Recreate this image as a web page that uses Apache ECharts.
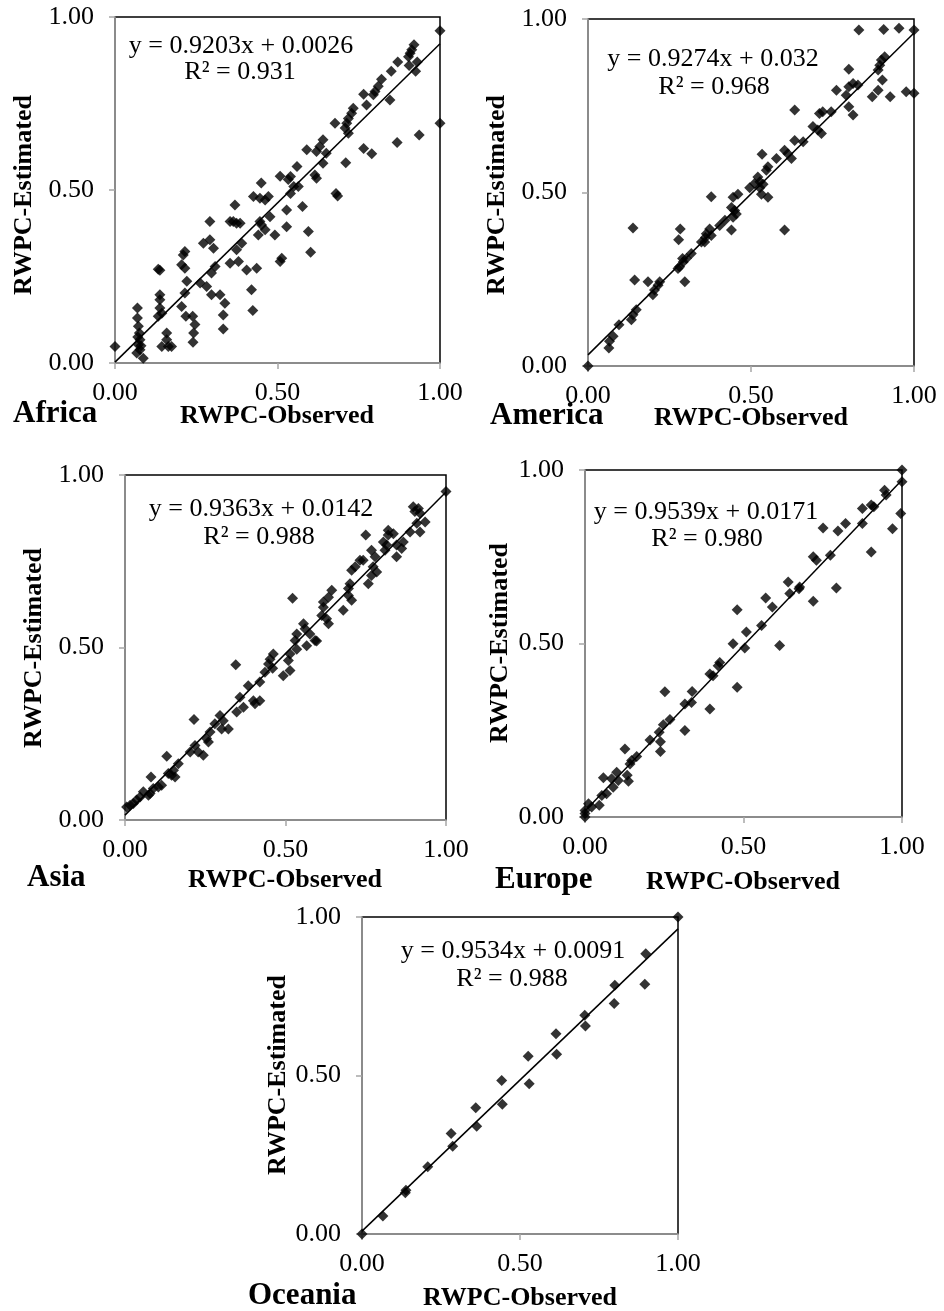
<!DOCTYPE html>
<html>
<head>
<meta charset="utf-8">
<script src="https://cdn.jsdelivr.net/npm/echarts/dist/echarts.min.js"></script>
<style>
  html, body { margin: 0; padding: 0; background: #fff; }
  #chart { width: 944px; height: 1311px; }
</style>
</head>
<body>
<div id="chart"></div>
<script>
// Observed vs. estimated RWPC for five regions, each with its linear fit.

const regionNames = ['Africa', 'America', 'Asia', 'Europe', 'Oceania'];
const tickValues = [0, 0.5, 1];

const africaObserved = [1.00, 1.00, 0.920, 0.913, 0.908, 0.903, 0.930, 0.925, 0.905, 0.870, 0.850, 0.820, 0.810, 0.800, 0.795, 0.846, 0.765, 0.774, 0.733, 0.728, 0.718, 0.713, 0.677, 0.708, 0.718, 0.765, 0.790, 0.868, 0.936, 0.710, 0.640, 0.630, 0.620, 0.590, 0.650, 0.640, 0.615, 0.620, 0.560, 0.540, 0.533, 0.508, 0.550, 0.540, 0.450, 0.680, 0.426, 0.446, 0.462, 0.472, 0.564, 0.528, 0.528, 0.577, 0.477, 0.492, 0.462, 0.451, 0.446, 0.441, 0.595, 0.602, 0.508, 0.513, 0.685, 0.369, 0.364, 0.374, 0.385, 0.354, 0.390, 0.374, 0.380, 0.354, 0.405, 0.436, 0.420, 0.424, 0.292, 0.272, 0.292, 0.303, 0.308, 0.297, 0.215, 0.210, 0.205, 0.215, 0.221, 0.215, 0.262, 0.282, 0.297, 0.323, 0.338, 0.333, 0.333, 0.205, 0.218, 0.239, 0.246, 0.242, 0.240, 0.133, 0.138, 0.138, 0.138, 0.138, 0.144, 0.133, 0.159, 0.159, 0.144, 0.164, 0.174, 0.069, 0.069, 0.072, 0.075, 0.077, 0.072, 0.077, 0.067, 0.087, 0.000, 0.080, 0.070];
const africaEstimated = [0.960, 0.693, 0.920, 0.905, 0.895, 0.885, 0.870, 0.843, 0.860, 0.870, 0.843, 0.820, 0.800, 0.785, 0.775, 0.760, 0.777, 0.746, 0.736, 0.722, 0.707, 0.693, 0.693, 0.679, 0.664, 0.620, 0.605, 0.637, 0.659, 0.579, 0.645, 0.626, 0.611, 0.616, 0.606, 0.577, 0.543, 0.534, 0.568, 0.539, 0.530, 0.540, 0.510, 0.490, 0.520, 0.490, 0.481, 0.476, 0.471, 0.481, 0.510, 0.442, 0.394, 0.452, 0.423, 0.370, 0.385, 0.399, 0.409, 0.370, 0.380, 0.320, 0.293, 0.303, 0.483, 0.457, 0.409, 0.404, 0.404, 0.409, 0.346, 0.327, 0.293, 0.288, 0.269, 0.274, 0.212, 0.152, 0.409, 0.346, 0.356, 0.332, 0.279, 0.260, 0.322, 0.312, 0.284, 0.274, 0.236, 0.202, 0.231, 0.221, 0.197, 0.197, 0.173, 0.139, 0.098, 0.163, 0.135, 0.135, 0.111, 0.087, 0.060, 0.271, 0.268, 0.197, 0.183, 0.159, 0.144, 0.135, 0.087, 0.067, 0.048, 0.048, 0.048, 0.159, 0.130, 0.106, 0.087, 0.067, 0.053, 0.038, 0.029, 0.014, 0.048, 0.050, 0.075];

const americaObserved = [1.000, 0.831, 0.907, 0.954, 1.000, 0.976, 0.927, 0.872, 0.890, 0.903, 0.890, 0.895, 0.900, 0.910, 0.800, 0.800, 0.813, 0.828, 0.762, 0.792, 0.800, 0.813, 0.634, 0.710, 0.720, 0.746, 0.690, 0.705, 0.716, 0.660, 0.634, 0.603, 0.613, 0.624, 0.578, 0.552, 0.547, 0.534, 0.521, 0.527, 0.511, 0.378, 0.527, 0.496, 0.460, 0.445, 0.537, 0.532, 0.552, 0.603, 0.440, 0.450, 0.455, 0.445, 0.440, 0.404, 0.373, 0.363, 0.378, 0.358, 0.348, 0.317, 0.302, 0.292, 0.281, 0.276, 0.283, 0.278, 0.297, 0.138, 0.143, 0.184, 0.220, 0.215, 0.204, 0.199, 0.148, 0.138, 0.133, 0.095, 0.077, 0.066, 0.064, 0.000, 0.290, 0.360, 0.420];
const americaEstimated = [0.968, 0.968, 0.970, 0.973, 0.786, 0.790, 0.776, 0.776, 0.795, 0.824, 0.853, 0.867, 0.882, 0.891, 0.855, 0.805, 0.814, 0.810, 0.795, 0.780, 0.747, 0.723, 0.738, 0.728, 0.733, 0.733, 0.690, 0.680, 0.670, 0.646, 0.650, 0.622, 0.612, 0.598, 0.598, 0.574, 0.564, 0.610, 0.545, 0.531, 0.526, 0.488, 0.514, 0.514, 0.495, 0.486, 0.524, 0.495, 0.486, 0.392, 0.457, 0.448, 0.438, 0.429, 0.392, 0.405, 0.395, 0.381, 0.376, 0.357, 0.357, 0.324, 0.310, 0.300, 0.286, 0.281, 0.395, 0.364, 0.243, 0.398, 0.248, 0.243, 0.243, 0.233, 0.219, 0.205, 0.162, 0.148, 0.133, 0.119, 0.086, 0.071, 0.052, 0.000, 0.310, 0.370, 0.420];

const asiaObserved = [1.000, 0.898, 0.914, 0.903, 0.919, 0.935, 0.909, 0.888, 0.919, 0.820, 0.836, 0.820, 0.867, 0.846, 0.862, 0.846, 0.805, 0.815, 0.810, 0.750, 0.768, 0.779, 0.732, 0.717, 0.706, 0.742, 0.773, 0.784, 0.768, 0.758, 0.701, 0.696, 0.696, 0.706, 0.680, 0.644, 0.634, 0.618, 0.618, 0.613, 0.522, 0.628, 0.634, 0.556, 0.561, 0.576, 0.592, 0.535, 0.530, 0.462, 0.452, 0.447, 0.436, 0.535, 0.514, 0.509, 0.514, 0.493, 0.566, 0.597, 0.345, 0.384, 0.358, 0.369, 0.348, 0.400, 0.405, 0.420, 0.296, 0.306, 0.322, 0.301, 0.215, 0.280, 0.265, 0.254, 0.260, 0.218, 0.228, 0.244, 0.203, 0.130, 0.166, 0.151, 0.145, 0.156, 0.135, 0.114, 0.104, 0.088, 0.078, 0.073, 0.081, 0.057, 0.047, 0.036, 0.026, 0.016, 0.005, 0.420, 0.460];
const asiaEstimated = [0.952, 0.908, 0.903, 0.894, 0.889, 0.864, 0.860, 0.835, 0.835, 0.840, 0.830, 0.826, 0.806, 0.797, 0.787, 0.763, 0.806, 0.797, 0.782, 0.826, 0.782, 0.763, 0.753, 0.734, 0.724, 0.753, 0.734, 0.719, 0.709, 0.685, 0.685, 0.671, 0.651, 0.637, 0.608, 0.666, 0.646, 0.632, 0.617, 0.593, 0.643, 0.583, 0.569, 0.569, 0.554, 0.539, 0.520, 0.539, 0.520, 0.481, 0.466, 0.452, 0.428, 0.495, 0.481, 0.462, 0.433, 0.418, 0.505, 0.519, 0.450, 0.389, 0.356, 0.327, 0.313, 0.346, 0.337, 0.346, 0.303, 0.288, 0.264, 0.264, 0.291, 0.279, 0.255, 0.236, 0.226, 0.216, 0.197, 0.188, 0.197, 0.185, 0.163, 0.144, 0.130, 0.125, 0.135, 0.101, 0.096, 0.091, 0.077, 0.072, 0.125, 0.082, 0.067, 0.058, 0.048, 0.043, 0.038, 0.400, 0.440];

const europeObserved = [1.000, 1.000, 0.996, 0.970, 0.945, 0.950, 0.903, 0.911, 0.875, 0.875, 0.903, 0.751, 0.798, 0.822, 0.720, 0.730, 0.774, 0.793, 0.641, 0.646, 0.675, 0.677, 0.720, 0.570, 0.591, 0.480, 0.509, 0.557, 0.467, 0.614, 0.504, 0.425, 0.420, 0.394, 0.404, 0.480, 0.394, 0.338, 0.336, 0.315, 0.315, 0.252, 0.268, 0.247, 0.234, 0.238, 0.238, 0.205, 0.126, 0.163, 0.147, 0.142, 0.133, 0.137, 0.105, 0.100, 0.058, 0.084, 0.089, 0.068, 0.053, 0.045, 0.021, 0.011, 0.000, 0.000, 0.000];
const europeEstimated = [1.000, 0.966, 0.875, 0.831, 0.942, 0.928, 0.899, 0.894, 0.889, 0.846, 0.764, 0.833, 0.824, 0.846, 0.750, 0.740, 0.754, 0.660, 0.677, 0.644, 0.658, 0.663, 0.622, 0.631, 0.605, 0.597, 0.533, 0.552, 0.499, 0.494, 0.487, 0.445, 0.436, 0.412, 0.407, 0.374, 0.311, 0.362, 0.330, 0.326, 0.249, 0.361, 0.281, 0.266, 0.244, 0.217, 0.189, 0.222, 0.196, 0.174, 0.163, 0.153, 0.120, 0.103, 0.105, 0.129, 0.113, 0.110, 0.086, 0.067, 0.062, 0.034, 0.029, 0.038, 0.019, 0.010, 0.000];

const oceaniaObserved = [1.000, 0.898, 0.895, 0.800, 0.798, 0.705, 0.707, 0.614, 0.616, 0.526, 0.529, 0.442, 0.444, 0.360, 0.363, 0.282, 0.287, 0.208, 0.139, 0.137, 0.066, 0.000];
const oceaniaEstimated = [1.000, 0.884, 0.788, 0.785, 0.727, 0.690, 0.656, 0.632, 0.567, 0.561, 0.474, 0.484, 0.409, 0.398, 0.340, 0.317, 0.277, 0.212, 0.138, 0.130, 0.057, 0.000];

const fitSlopes = [0.9203, 0.9274, 0.9363, 0.9539, 0.9534];
const fitIntercepts = [0.0026, 0.032, 0.0142, 0.0171, 0.0091];
const fitSlopeLabels = ['0.9203', '0.9274', '0.9363', '0.9539', '0.9534'];
const fitInterceptLabels = ['0.0026', '0.032', '0.0142', '0.0171', '0.0091'];
const rSquaredLabels = ['0.931', '0.968', '0.988', '0.980', '0.988'];

const observedSets = [africaObserved, americaObserved, asiaObserved, europeObserved, oceaniaObserved];
const estimatedSets = [africaEstimated, americaEstimated, asiaEstimated, europeEstimated, oceaniaEstimated];

// Panel placement (pixels) and text anchors
const panels = [
  { grid: [115, 17, 325, 346],  eq: [241, 46],  r2: [240, 72],  region: [13, 414],  xTitle: [277, 416],  yTitle: [24, 195] },
  { grid: [588, 19, 326, 347],  eq: [713, 59],  r2: [714, 87],  region: [490, 416], xTitle: [751, 418],  yTitle: [497, 195] },
  { grid: [125, 475, 321, 345], eq: [261, 509], r2: [259, 537], region: [27, 878],  xTitle: [285, 880],  yTitle: [34, 648] },
  { grid: [585, 470, 317, 347], eq: [706, 512], r2: [707, 539], region: [495, 880], xTitle: [743, 882],  yTitle: [500, 643] },
  { grid: [362, 917, 316, 317], eq: [513, 951], r2: [512, 979], region: [248, 1296], xTitle: [520, 1298], yTitle: [278, 1075] }
];

const SERIF = '"Liberation Serif", "Times New Roman", serif';
const AXIS_GREY = '#a6a6a6';

const grids = [], xAxes = [], yAxes = [], series = [], graphics = [];

function axisBase(idx) {
  return {
    gridIndex: idx,
    type: 'value',
    min: tickValues[0],
    max: tickValues[tickValues.length - 1],
    interval: tickValues[1] - tickValues[0],
    axisLine: { show: true, onZero: false, lineStyle: { color: AXIS_GREY, width: 1.5 } },
    axisTick: { show: true, inside: false, length: 6, lineStyle: { color: AXIS_GREY, width: 1.5 } },
    splitLine: { show: false },
    axisLabel: {
      fontFamily: SERIF, fontSize: 26, color: '#000',
      formatter: v => v.toFixed(2)
    }
  };
}

panels.forEach((p, i) => {
  const [left, top, width, height] = p.grid;
  grids.push({ left, top, width, height, show: true, borderColor: '#000', borderWidth: 1.5, backgroundColor: 'transparent' });

  const xa = axisBase(i);
  xa.axisLabel.margin = 17;
  xAxes.push(xa);

  const ya = axisBase(i);
  ya.axisLabel.margin = 21;
  yAxes.push(ya);

  const pts = observedSets[i].map((x, k) => [x, estimatedSets[i][k]]);
  series.push({
    type: 'scatter',
    xAxisIndex: i, yAxisIndex: i,
    data: pts,
    symbol: 'diamond',
    symbolSize: 11,
    clip: false,
    itemStyle: { color: '#000' },
    z: 3
  });

  const a = fitSlopes[i], b = fitIntercepts[i];
  series.push({
    type: 'line',
    xAxisIndex: i, yAxisIndex: i,
    data: [[tickValues[0], a * tickValues[0] + b], [tickValues[2], a * tickValues[2] + b]],
    showSymbol: false,
    symbol: 'none',
    lineStyle: { color: '#000', width: 1.5 },
    silent: true,
    z: 4
  });

  const textStyle = (txt, size, bold) => ({
    text: txt, fontFamily: SERIF, fontSize: size, fontWeight: bold ? 'bold' : 'normal', fill: '#000'
  });

  graphics.push({
    type: 'text', x: p.eq[0], y: p.eq[1], z: 10,
    style: Object.assign(textStyle('y = ' + fitSlopeLabels[i] + 'x + ' + fitInterceptLabels[i], 26, false), { textAlign: 'center', textVerticalAlign: 'middle' })
  });
  graphics.push({
    type: 'text', x: p.r2[0], y: p.r2[1], z: 10,
    style: Object.assign(textStyle('R² = ' + rSquaredLabels[i], 26, false), { textAlign: 'center', textVerticalAlign: 'middle' })
  });
  graphics.push({
    type: 'text', x: p.region[0], y: p.region[1], z: 10,
    style: Object.assign(textStyle(regionNames[i], 31, true), { textAlign: 'left', textVerticalAlign: 'middle' })
  });
  graphics.push({
    type: 'text', x: p.xTitle[0], y: p.xTitle[1], z: 10,
    style: Object.assign(textStyle('RWPC-Observed', 26, true), { textAlign: 'center', textVerticalAlign: 'middle' })
  });
  graphics.push({
    type: 'text', x: p.yTitle[0], y: p.yTitle[1], rotation: Math.PI / 2, z: 10,
    style: Object.assign(textStyle('RWPC-Estimated', 26, true), { textAlign: 'center', textVerticalAlign: 'middle' })
  });
});

const chart = echarts.init(document.getElementById('chart'), null, { renderer: 'canvas' });
chart.setOption({
  animation: false,
  backgroundColor: '#fff',
  grid: grids,
  xAxis: xAxes,
  yAxis: yAxes,
  series: series,
  graphic: graphics
});
</script>
</body>
</html>
